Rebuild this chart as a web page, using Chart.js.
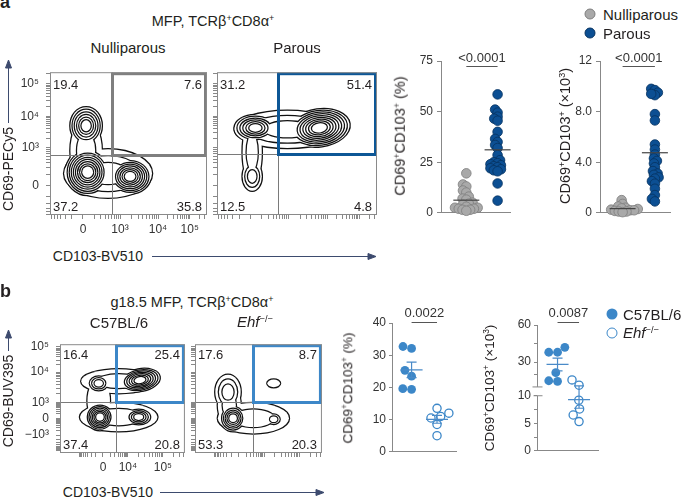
<!DOCTYPE html>
<html>
<head>
<meta charset="utf-8">
<title>CD69+CD103+ CD8 T cells in the mammary fat pad</title>
<script src="https://cdn.jsdelivr.net/npm/chart.js@4.4.1/dist/chart.umd.min.js"></script>
<style>
  body { margin: 0; background: #fff; font-family: "Liberation Sans", Arial, sans-serif; color: #231f20; }
  #fig { position: relative; width: 685px; height: 499px; overflow: hidden; }
  #plots canvas { position: absolute; }
  .txt { position: absolute; white-space: nowrap; line-height: 1; transform: translate(-50%, -50%); }
  .rot { transform: translate(-50%, -50%) rotate(-90deg); }
  .left { transform: translate(0, -50%); }
  .panel { position: absolute; font-weight: bold; font-size: 18px; line-height: 1; }
  .dot { position: absolute; width: 11px; height: 11px; border-radius: 50%; box-sizing: border-box; transform: translate(-50%, -50%); }
  sup { font-size: 0.62em; vertical-align: 0; position: relative; top: -0.55em; }
  svg { position: absolute; left: 0; top: 0; }
</style>
</head>
<body>
<div id="fig">
  <div id="plots"></div>

  <div class="panel" style="left:0;top:-7px">a</div>
  <div class="txt" style="left:213px;top:21px;font-size:14.5px">MFP, TCRβ<sup>+</sup>CD8α<sup>+</sup></div>
  <div class="txt" style="left:128px;top:47px;font-size:15px">Nulliparous</div>
  <div class="txt" style="left:297px;top:47px;font-size:15px">Parous</div>
  <div class="txt rot" style="left:8px;top:169px;font-size:14px">CD69-PECy5</div>
  <div class="txt" style="left:98px;top:256px;font-size:14px">CD103-BV510</div>
  <div class="txt rot" style="left:400px;top:136px;font-size:14.5px">CD69<sup>+</sup>CD103<sup>+</sup> (%)</div>
  <div class="txt rot" style="left:565px;top:136px;font-size:14.5px">CD69<sup>+</sup>CD103<sup>+</sup> (×10<sup>3</sup>)</div>
  <div class="dot" style="left:590px;top:14px;background:#a9a9a9;border:1px solid #7d7d7d"></div>
  <div class="txt left" style="left:603px;top:14px;font-size:15px">Nulliparous</div>
  <div class="dot" style="left:590px;top:33px;background:#0c4f93;border:1px solid #06325f"></div>
  <div class="txt left" style="left:603px;top:33px;font-size:15px">Parous</div>

  <div class="panel" style="left:0;top:282px">b</div>
  <div class="txt" style="left:192px;top:302px;font-size:14.5px">g18.5 MFP, TCRβ<sup>+</sup>CD8α<sup>+</sup></div>
  <div class="txt" style="left:119px;top:322px;font-size:15px">C57BL/6</div>
  <div class="txt" style="left:255px;top:322px;font-size:15px"><i>Ehf</i><sup>−/−</sup></div>
  <div class="txt rot" style="left:8px;top:401px;font-size:14px">CD69-BUV395</div>
  <div class="txt" style="left:108px;top:492px;font-size:14px">CD103-BV510</div>
  <div class="txt rot" style="left:348px;top:388px;font-size:13.5px">CD69<sup>+</sup>CD103<sup>+</sup> (%)</div>
  <div class="txt rot" style="left:490px;top:388px;font-size:13.5px">CD69<sup>+</sup>CD103<sup>+</sup> (×10<sup>3</sup>)</div>
  <div class="dot" style="left:612px;top:314px;background:#3c87c8"></div>
  <div class="txt left" style="left:623px;top:314px;font-size:15px">C57BL/6</div>
  <div class="dot" style="left:612px;top:333px;background:#fff;border:1.3px solid #3c87c8"></div>
  <div class="txt left" style="left:623px;top:333px;font-size:15px"><i>Ehf</i><sup>−/−</sup></div>

  <svg width="685" height="499">
    <g stroke="#3d4b6e" stroke-width="1" fill="#3d4b6e">
      <line x1="8.5" y1="123" x2="8.5" y2="66"/><polygon points="8.5,60 5.5,68 11.5,68"/>
      <line x1="152" y1="256.5" x2="370" y2="256.5"/><polygon points="376,256.5 368,253.5 368,259.5"/>
      <line x1="8.5" y1="351" x2="8.5" y2="336"/><polygon points="8.5,330 5.5,338 11.5,338"/>
      <line x1="160" y1="492.5" x2="318" y2="492.5"/><polygon points="324,492.5 316,489.5 316,495.5"/>
    </g>
  </svg>
</div>

<script>
// ---- panel a: CD69+CD103+ cells, nulliparous vs parous ----
const groupsA = ["Nulliparous", "Parous"];
const pctNulli = [19.5, 14, 13, 11, 10, 8, 7, 6.5, 5, 4.5, 4, 3, 2.5, 2.5, 2, 2, 1.5, 1.5, 1];
const pctParous = [58.5, 51, 49.5, 47.5, 46.5, 45.5, 40, 36.5, 35, 33.5, 32, 28.5, 26, 25, 24.5, 24, 23.5, 23, 22.5, 22, 21.5, 21, 20.5, 14.5, 6];
const cntNulli = [1.0, 0.7, 0.5, 0.4, 0.35, 0.3, 0.25, 0.2, 0.2, 0.15, 0.1, 0.1, 0.05];
const cntParous = [9.8, 9.7, 9.5, 9.3, 9.4, 7.8, 7.3, 5.4, 5.0, 4.6, 4.3, 4.1, 3.9, 3.6, 3.3, 3.1, 3.0, 2.8, 2.7, 2.5, 2.3, 1.9, 1.4, 1.1, 0.9];
const pctTicksA = [0, 25, 50, 75], pctLabelsA = ["0", "25", "50", "75"];
const cntTicksA = [0, 4, 8, 12], cntLabelsA = ["0", "4.0", "8.0", "12"];

// ---- panel b: C57BL/6 vs Ehf-/- ----
const groupsB = ["C57BL/6", "Ehf-/-"];
const pctB6 = [32.1, 32.7, 23.5, 25.3, 19.4, 19.6];
const pctEhf = [13.5, 12, 11, 10.5, 8.5, 5];
const cntB6 = [42, 38, 38, 21.5, 15, 14.5];
const cntEhf = [15.7, 11.4, 9.2, 7.6, 6.5, 5.3];
const pctTicksB = [0, 10, 20, 30, 40], pctLabelsB = ["0", "10", "20", "30", "40"];
const cntTicksB = [0, 2.5, 5, 7.5, 10, 20, 30, 45, 60], cntLabelsB = ["0", "", "5", "", "10", "", "30", "", "60"];

const pValues = ["<0.0001", "<0.0001", "0.0022", "0.0087"];

// ---- flow plots: quadrant frequencies [UL, UR, LL, LR] ----
const quadNulli = [19.4, 7.6, 37.2, 35.8];
const quadParous = [31.2, 51.4, 12.5, 4.8];
const quadB6 = [16.4, 25.4, 37.4, 20.8];
const quadEhf = [17.6, 8.7, 53.3, 20.3];
// quadrant gates [CD103, CD69] in display units (0-100, biexponential axis)
const gateNulli = [39.5, 42], gateParous = [38.1, 42.6], gateB6 = [44.8, 47.1], gateEhf = [45.7, 47.1];
// axis decades in display units
const flowAX = [21, 44.6, 68.8, 89], flowAXLab = ["0", "10³", "10⁴", "10⁵"];
const flowAY = [20.6, 47, 69, 92], flowAYLab = ["0", "10³", "10⁴", "10⁵"];
const flowBX = [34.4, 54.4, 82.4], flowBXLab = ["0", "10⁴", "10⁵"];
const flowBY = [16.5, 31.4, 46.3, 74.4, 97.5], flowBYLab = ["−10³", "0", "10³", "10⁴", "10⁵"];
// cell populations: [x, y, spread x, spread y, contour levels, tilt deg]
const popsNulli = [[23, 62.5, 10, 13, 6, 0], [23, 45, 10, 22, 2, 0], [24, 30, 14, 16, 9, 0], [51, 27, 13, 12, 8, 0], [37, 29, 28, 17, 3, 0]];
const popsParous = [[24, 61, 13, 9, 6, 0], [64, 61, 19, 13, 9, 8], [44, 60, 33, 13, 3, 0], [22, 27, 6, 10, 3, 0], [22, 44, 6, 22, 2, 0]];
const popsB6 = [[31, 64, 9, 8, 4, 0], [64, 67, 16, 10, 7, 10], [47, 66, 30, 11, 2, 0], [32, 33, 11, 12, 7, 0], [63, 33, 11, 8, 5, 0], [47, 33, 31, 13, 2, 0], [31, 48, 9, 20, 1, 0]];
const popsEhf = [[62, 64, 5, 3.5, 1, 0], [26, 56, 10, 16, 3, 0], [27, 44, 9, 18, 2, 0], [30, 32, 10, 12, 6, 0], [62, 31, 6.5, 6, 3, 0], [46, 32, 28, 14, 2, 0]];

Chart.defaults.font.family = '"Liberation Sans", Arial, sans-serif';
Chart.defaults.color = "#333";

// broken y axis of the count plot in b: 0-10 linear, then 10-60 compressed
const breakGap = 1.6, upperScale = 0.225;
const cntBreak = v => v <= 10 ? v : 10 + breakGap + (v - 10) * upperScale;

function makeCanvas(box, m) {
    const c = document.createElement("canvas");
    c.width = box[2] + m[1] + m[3];
    c.height = box[3] + m[0] + m[2];
    c.style.left = (box[0] - m[3]) + "px";
    c.style.top = (box[1] - m[0]) + "px";
    document.getElementById("plots").appendChild(c);
    return c.getContext("2d");
}

function flowTicks(major, labels) {
    const t = [];
    for (let i = 0; i < major.length; i++) {
        t.push({value: major[i], label: labels[i]});
        const a = major[i];
        const b = i < major.length - 1 ? major[i + 1] : 2 * a - major[i - 1];
        for (let k = 2; k < 10; k++) {
            const v = a + (b - a) * Math.log10(k);
            if (v < 100) t.push({value: v, label: ""});
        }
    }
    for (let k = 2; k < 10; k++) {
        const v = major[0] - (major[1] - major[0]) * Math.log10(k);
        if (v > 0) t.push({value: v, label: ""});
    }
    return t.sort((p, q) => p.value - q.value);
}

function flowPlugin(f) {
    return {
        id: "flow",
        beforeDatasetsDraw(chart) {
            const {ctx, chartArea: a, scales: {x, y}} = chart;
            const sx = v => x.getPixelForValue(v), sy = v => y.getPixelForValue(v);
            ctx.save();
            ctx.beginPath();
            ctx.rect(a.left, a.top, a.width, a.height);
            ctx.clip();
            // contour levels, outer first; stroke then fill white so overlapping rings merge
            const levels = Math.max(...f.pops.map(p => p[4]));
            for (let j = 0; j < levels; j++) {
                const ring = f.pops.filter(p => p[4] > j);
                const shape = p => {
                    const k = 1 - 0.85 * j / p[4];
                    ctx.beginPath();
                    ctx.ellipse(sx(p[0]), sy(p[1]), (sx(p[0] + p[2]) - sx(p[0])) * k,
                        (sy(p[1]) - sy(p[1] + p[3])) * k, -p[5] * Math.PI / 180, 0, 2 * Math.PI);
                };
                ctx.lineWidth = 2.5;
                ctx.strokeStyle = "#111";
                ring.forEach(p => { shape(p); ctx.stroke(); });
                ctx.fillStyle = "#fff";
                ring.forEach(p => { shape(p); ctx.fill(); });
            }
            const gx = Math.round(sx(f.gate[0])) + 0.5, gy = Math.round(sy(f.gate[1])) + 0.5;
            ctx.lineWidth = 1;
            ctx.strokeStyle = "#7a7a7a";
            ctx.beginPath();
            ctx.moveTo(gx, a.top); ctx.lineTo(gx, a.bottom);
            ctx.moveTo(a.left, gy); ctx.lineTo(a.right, gy);
            ctx.stroke();
            ctx.lineWidth = 3;
            ctx.strokeStyle = f.color;
            ctx.strokeRect(gx, a.top + 1.5, a.right - 1.5 - gx, gy - a.top - 1.5);
            ctx.restore();

            ctx.save();
            ctx.strokeStyle = "#8a8a8a";
            ctx.lineWidth = 1;
            ctx.strokeRect(a.left + 0.5, a.top + 0.5, a.width - 1, a.height - 1);
            ctx.fillStyle = "#231f20";
            ctx.font = '13px "Liberation Sans", Arial, sans-serif';
            ctx.textBaseline = "middle";
            const q = f.quads.map(v => v.toFixed(1));
            ctx.textAlign = "left";
            ctx.fillText(q[0], a.left + 3, a.top + f.dy[0]);
            ctx.fillText(q[2], a.left + 3, a.bottom - f.dy[1]);
            ctx.textAlign = "right";
            ctx.fillText(q[1], a.right - 5, a.top + f.dy[0]);
            ctx.fillText(q[3], a.right - 5, a.bottom - f.dy[1]);
            ctx.restore();
        }
    };
}

function flowChart(box, f) {
    const ctx = makeCanvas(box, [2, 2, 26, 50]);
    const xt = flowTicks(f.xt, f.xl), yt = flowTicks(f.yt, f.yl);
    const lab = (list, show) => v => {
        if (!show) return "";
        const t = list.find(o => o.value === v);
        return t ? t.label : "";
    };
    const axis = (list, show, pad) => ({
        type: "linear", min: 0, max: 100,
        afterBuildTicks: s => { s.ticks = list.map(o => ({value: o.value})); },
        ticks: {autoSkip: false, maxRotation: 0, padding: pad, font: {size: 12}, color: "#333", callback: lab(list, show)},
        grid: {display: true, drawOnChartArea: false, tickLength: 4, color: "#888"},
        border: {display: false}
    });
    const xs = axis(xt, f.labels, 3), ys = axis(yt, f.labels, 7);
    xs.afterFit = s => { s.height = 26; };
    ys.afterFit = s => { s.width = 50; };
    new Chart(ctx, {
        type: "scatter",
        data: {datasets: [{data: []}]},
        options: {
            responsive: false, animation: false, events: [],
            layout: {padding: {top: 2, right: 2, left: 0, bottom: 0}},
            plugins: {legend: {display: false}, tooltip: {enabled: false}},
            scales: {x: xs, y: ys}
        },
        plugins: [flowPlugin(f)]
    });
}

// spread the dots of one group sideways so they only partly overlap
function swarm(values, centre, ppuY, pxPerX, diam, tf) {
    const placed = [], out = [];
    const order = values.map((v, i) => i).sort((i, k) => values[i] - values[k]);
    order.forEach(i => {
        const yv = tf(values[i]) * ppuY;
        const cands = [0];
        placed.forEach(p => {
            const dy = Math.abs(p.y - yv);
            if (dy < diam) {
                const w = Math.sqrt(diam * diam - dy * dy);
                cands.push(p.x - w, p.x + w);
            }
        });
        cands.sort((u, w) => Math.abs(u) - Math.abs(w) || u - w);
        const xv = cands.find(c => placed.every(p => (p.x - c) ** 2 + (p.y - yv) ** 2 >= diam * diam - 0.01));
        placed.push({x: xv, y: yv});
        out[i] = {x: centre + xv / pxPerX, y: tf(values[i])};
    });
    return out;
}

function statsPlugin(d) {
    return {
        id: "stats",
        afterDatasetsDraw(chart) {
            const {ctx, chartArea: a, scales: {x, y}} = chart;
            ctx.save();
            d.groups.forEach((vals, i) => {
                const n = vals.length;
                const m = vals.reduce((s, v) => s + v, 0) / n;
                const sem = Math.sqrt(vals.reduce((s, v) => s + (v - m) ** 2, 0) / (n - 1)) / Math.sqrt(n);
                const cx = x.getPixelForValue(i + 1);
                const ym = y.getPixelForValue(d.tf(m));
                ctx.strokeStyle = d.lineColor;
                ctx.lineWidth = 1.2;
                ctx.beginPath();
                ctx.moveTo(cx - d.meanW, ym); ctx.lineTo(cx + d.meanW, ym);
                if (d.sem) {
                    const y1 = y.getPixelForValue(d.tf(m - sem)), y2 = y.getPixelForValue(d.tf(m + sem));
                    ctx.moveTo(cx, y1); ctx.lineTo(cx, y2);
                    ctx.moveTo(cx - 5, y1); ctx.lineTo(cx + 5, y1);
                    ctx.moveTo(cx - 5, y2); ctx.lineTo(cx + 5, y2);
                }
                ctx.stroke();
            });
            const x1 = x.getPixelForValue(1), x2 = x.getPixelForValue(2);
            ctx.strokeStyle = "#555";
            ctx.lineWidth = 1;
            ctx.beginPath();
            ctx.moveTo(x1, Math.round(a.top + d.pLine) + 0.5);
            ctx.lineTo(x2, Math.round(a.top + d.pLine) + 0.5);
            ctx.stroke();
            ctx.fillStyle = "#333";
            ctx.font = '13px "Liberation Sans", Arial, sans-serif';
            ctx.textAlign = "center";
            ctx.textBaseline = "middle";
            ctx.fillText(d.p, (x1 + x2) / 2, a.top + d.pText);
            if (d.broken) {
                const ax = a.left + 0.5;
                const lo = y.getPixelForValue(10), hi = y.getPixelForValue(10 + breakGap);
                ctx.strokeStyle = "#888";
                ctx.beginPath();
                ctx.moveTo(ax, a.bottom); ctx.lineTo(ax, lo);
                ctx.moveTo(ax, hi); ctx.lineTo(ax, a.top);
                ctx.moveTo(ax - 5, hi); ctx.lineTo(ax + 5, hi);
                ctx.moveTo(ax - 4, lo); ctx.lineTo(ax + 5, lo);
                ctx.stroke();
            }
            ctx.restore();
        }
    };
}

function dotChart(box, c) {
    const m = [24, 4, 8, 40];
    const ctx = makeCanvas(box, m);
    const tf = c.tf || (v => v);
    const ppuY = box[3] / (c.yMax - 0), pxX = box[2] / (c.xMax - c.xMin);
    const datasets = c.groups.map((vals, i) => Object.assign({
        data: swarm(vals, i + 1, ppuY, pxX, c.diam, tf),
        clip: false
    }, c.styles[i]));
    new Chart(ctx, {
        type: "scatter",
        data: {datasets: datasets},
        options: {
            responsive: false, animation: false, events: [],
            layout: {padding: {top: m[0], right: m[1], left: 0, bottom: 0}},
            plugins: {legend: {display: false}, tooltip: {enabled: false}},
            scales: {
                x: {
                    type: "linear", min: c.xMin, max: c.xMax,
                    ticks: {display: false}, grid: {display: false},
                    border: {display: true, color: "#888"},
                    afterFit: s => { s.height = m[2]; }
                },
                y: {
                    type: "linear", min: 0, max: c.yMax,
                    afterBuildTicks: s => { s.ticks = c.ticks.map(v => ({value: tf(v)})); },
                    ticks: {autoSkip: false, padding: c.pad, font: {size: 12}, color: "#333",
                        callback: (v, i) => c.labels[i]},
                    grid: {display: true, drawOnChartArea: false, tickLength: c.tick, color: "#888"},
                    border: {display: !c.broken, color: "#888"},
                    afterFit: s => { s.width = m[3]; }
                }
            }
        },
        plugins: [statsPlugin({groups: c.groups, tf: tf, sem: c.sem, meanW: c.meanW, lineColor: c.lineColor,
            p: c.p, pLine: c.pLine, pText: c.pText, broken: c.broken})]
    });
}

const greyDot = {backgroundColor: "#a9a9a9", borderColor: "#7d7d7d", borderWidth: 0.8, pointRadius: 4.8};
const navyDot = {backgroundColor: "#0c4f93", borderColor: "#06325f", borderWidth: 0.8, pointRadius: 4.8};
const fullDot = {backgroundColor: "#3c87c8", borderColor: "#3c87c8", borderWidth: 0, pointRadius: 4.4};
const openDot = {backgroundColor: "#ffffff", borderColor: "#3c87c8", borderWidth: 1.3, pointRadius: 4.1};

// flow cytometry contour plots
flowChart([50, 60, 157, 155], {pops: popsNulli, gate: gateNulli, quads: quadNulli, color: "#7f7f7f",
    xt: flowAX, xl: flowAXLab, yt: flowAY, yl: flowAYLab, labels: true, dy: [13, 8]});
flowChart([217, 60, 160, 155], {pops: popsParous, gate: gateParous, quads: quadParous, color: "#0d5796",
    xt: flowAX, xl: flowAXLab, yt: flowAY, yl: flowAYLab, labels: false, dy: [13, 8]});
flowChart([60, 332, 125, 121], {pops: popsB6, gate: gateB6, quads: quadB6, color: "#3c87c8",
    xt: flowBX, xl: flowBXLab, yt: flowBY, yl: flowBYLab, labels: true, dy: [11, 8]});
flowChart([195, 332, 127, 121], {pops: popsEhf, gate: gateEhf, quads: quadEhf, color: "#3c87c8",
    xt: flowBX, xl: flowBXLab, yt: flowBY, yl: flowBYLab, labels: false, dy: [11, 8]});

// summary dot plots
dotChart([441, 61, 71, 155], {groups: [pctNulli, pctParous], styles: [greyDot, navyDot], yMax: 75,
    xMin: 0.19, xMax: 2.41, diam: 4, ticks: pctTicksA, labels: pctLabelsA, tick: 4, pad: 4,
    sem: false, meanW: 13, lineColor: "#444", p: pValues[0], pLine: 5, pText: -3});
dotChart([600, 61, 72, 155], {groups: [cntNulli, cntParous], styles: [greyDot, navyDot], yMax: 12,
    xMin: 0.3, xMax: 2.48, diam: 4, ticks: cntTicksA, labels: cntLabelsA, tick: 4, pad: 4,
    sem: false, meanW: 13, lineColor: "#444", p: pValues[1], pLine: 5, pText: -3});
dotChart([392, 323, 66, 131], {groups: [pctB6, pctEhf], styles: [fullDot, openDot], yMax: 40,
    xMin: 0.23, xMax: 2.77, diam: 9, ticks: pctTicksB, labels: pctLabelsB, tick: 3, pad: 3,
    sem: true, meanW: 11, lineColor: "#4a8ac8", p: pValues[2], pLine: -1, pText: -10});
dotChart([537, 325, 63, 128], {groups: [cntB6, cntEhf], styles: [fullDot, openDot], yMax: cntBreak(60),
    xMin: 0.045, xMax: 2.91, diam: 9, ticks: cntTicksB, labels: cntLabelsB, tick: 3, pad: 3, tf: cntBreak,
    broken: true, sem: true, meanW: 11, lineColor: "#4a8ac8", p: pValues[3], pLine: -3, pText: -12});
</script>
</body>
</html>
